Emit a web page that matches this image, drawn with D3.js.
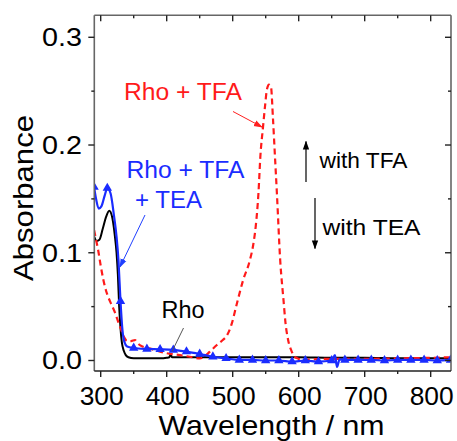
<!DOCTYPE html>
<html>
<head>
<meta charset="utf-8">
<script src="https://cdn.jsdelivr.net/npm/d3@7"></script>
<style>
  html, body { margin: 0; padding: 0; background: #fff; }
  svg { display: block; }
  text { font-family: "Liberation Sans", Arial, sans-serif; }
</style>
</head>
<body>
<svg id="chart" width="457" height="441"></svg>
<script>
// ---------- data ----------
const rhoNm  = [290, 294, 298, 303, 308, 313, 317, 321, 324, 326, 328, 330, 332, 335, 338, 342, 350, 370, 390, 400, 404, 406, 408, 420, 450, 500, 550, 600, 650, 700, 750, 800, 830];
const rhoAbs = [0.115, 0.111, 0.112, 0.122, 0.133, 0.139, 0.134, 0.118, 0.100, 0.080, 0.050, 0.030, 0.017, 0.009, 0.005, 0.003, 0.002, 0.002, 0.002, 0.0025, 0.003, 0.006, 0.003, 0.003, 0.003, 0.003, 0.003, 0.003, 0.0025, 0.0025, 0.002, 0.002, 0.002];

const tfaNm  = [290, 293, 296, 300, 304, 308, 312, 317, 322, 327, 332, 336, 340, 346, 352, 356, 360, 375, 400, 420, 435, 450, 458, 465, 476, 485, 491, 498, 506, 516, 526, 531, 535, 539, 542, 546, 549, 552, 555, 558, 561, 564, 567, 572, 577, 580, 584, 589, 594, 600, 607, 620, 650, 700, 750, 800, 830];
const tfaAbs = [0.121, 0.112, 0.103, 0.088, 0.075, 0.065, 0.058, 0.051, 0.044, 0.035, 0.027, 0.021, 0.018, 0.018, 0.019, 0.016, 0.014, 0.011, 0.0067, 0.005, 0.0035, 0.002, 0.004, 0.008, 0.0144, 0.019, 0.023, 0.033, 0.052, 0.075, 0.093, 0.107, 0.125, 0.155, 0.190, 0.217, 0.236, 0.252, 0.256, 0.254, 0.225, 0.190, 0.155, 0.093, 0.056, 0.035, 0.019, 0.009, 0.0035, 0.0015, 0.0005, 0.001, 0.0015, 0.0015, 0.002, 0.0025, 0.003];

const teaNm  = [290, 293, 297, 301, 306, 310, 315, 320, 324, 327, 330, 333, 336, 340, 350, 370, 390, 410, 430, 450, 470, 490, 510, 530, 550, 570, 590, 610, 630, 650, 655, 658, 662, 670, 690, 710, 730, 750, 770, 790, 810, 830];
const teaAbs = [0.161, 0.150, 0.141, 0.143, 0.153, 0.160, 0.155, 0.135, 0.115, 0.092, 0.055, 0.028, 0.017, 0.013, 0.0116, 0.0107, 0.0104, 0.0098, 0.0082, 0.006, 0.0035, 0.002, 0.0005, 0.0005, 0.0, 0.0, -0.001, 0.0, -0.001, 0.0, 0.005, -0.006, 0.001, 0.0005, 0.0005, 0.0005, 0.0, 0.0005, 0.0005, 0.0005, 0.0, 0.0005];
// wavelengths carrying a triangle marker on the TEA curve
const teaMarkerNm = [290, 310, 330, 350, 370, 390, 410, 430, 450, 470, 490, 510, 530, 550, 570, 590, 610, 630, 650, 670, 690, 710, 730, 750, 770, 790, 810, 830];

const xMajorTicks = [300, 400, 500, 600, 700, 800];
const xMinorTicks = [350, 450, 550, 650, 750];
const yMajorTicks = [0.0, 0.1, 0.2, 0.3];
const yMinorTicks = [0.05, 0.15, 0.25];

// ---------- layout ----------
const L = 94.3, R = 451, T = 15.3, B = 371;
const x = d3.scaleLinear().domain([290.3, 830.8]).range([L, R]);
const y = d3.scaleLinear().domain([-0.00975, 0.3204]).range([B, T]);

const svg = d3.select("#chart");
const defs = svg.append("defs");
defs.append("clipPath").attr("id", "plotclip")
  .append("rect").attr("x", L).attr("y", T).attr("width", R - L).attr("height", B - T);

function arrowMarker(id, color, size) {
  defs.append("marker").attr("id", id)
    .attr("viewBox", "0 0 10 10").attr("refX", 9).attr("refY", 5)
    .attr("markerWidth", size).attr("markerHeight", size)
    .attr("markerUnits", "userSpaceOnUse")
    .attr("orient", "auto")
    .append("path").attr("d", "M0,1.5 L10,5 L0,8.5 Z").attr("fill", color);
}
arrowMarker("arrRed", "#ff2020", 9);
arrowMarker("arrBlue", "#2040ff", 9);
arrowMarker("arrBlack", "#000", 9);

// ---------- curves ----------
const line = d3.line().x(d => x(d[0])).y(d => y(d[1])).curve(d3.curveMonotoneX);
const plot = svg.append("g").attr("clip-path", "url(#plotclip)");

plot.append("path").datum(d3.zip(rhoNm, rhoAbs))
  .attr("d", line).attr("fill", "none").attr("stroke", "#000").attr("stroke-width", 2);

plot.append("path").datum(d3.zip(tfaNm, tfaAbs))
  .attr("d", line).attr("fill", "none").attr("stroke", "#ff1a1a").attr("stroke-width", 2.2)
  .attr("stroke-dasharray", "6,4");

plot.append("path").datum(d3.zip(teaNm, teaAbs))
  .attr("d", line).attr("fill", "none").attr("stroke", "#1a2cff").attr("stroke-width", 2.2);

const tri = d3.symbol().type(d3.symbolTriangle).size(38);
plot.selectAll("path.mk").data(teaMarkerNm).enter().append("path").attr("class", "mk")
  .attr("d", tri)
  .attr("transform", nm => `translate(${x(nm)},${y(teaAbs[teaNm.indexOf(nm)])})`)
  .attr("fill", "#1a2cff");

// ---------- frame & ticks ----------
const frame = svg.append("g");
frame.append("line").attr("x1", L).attr("x2", R).attr("y1", T).attr("y2", T).attr("stroke", "#666").attr("stroke-width", 1.6);
frame.append("line").attr("x1", R).attr("x2", R).attr("y1", T).attr("y2", B).attr("stroke", "#666").attr("stroke-width", 1.6);
frame.append("line").attr("x1", L).attr("x2", L).attr("y1", T).attr("y2", B).attr("stroke", "#666").attr("stroke-width", 1.6);
frame.append("line").attr("x1", L).attr("x2", R).attr("y1", B).attr("y2", B).attr("stroke", "#222").attr("stroke-width", 1.6);

const tk = frame.append("g").attr("stroke", "#222").attr("stroke-width", 1.4);
xMajorTicks.forEach(v => {
  tk.append("line").attr("x1", x(v)).attr("x2", x(v)).attr("y1", B).attr("y2", B + 6);
  tk.append("line").attr("x1", x(v)).attr("x2", x(v)).attr("y1", T).attr("y2", T + 6);
});
xMinorTicks.forEach(v => {
  tk.append("line").attr("x1", x(v)).attr("x2", x(v)).attr("y1", B).attr("y2", B + 3);
  tk.append("line").attr("x1", x(v)).attr("x2", x(v)).attr("y1", T).attr("y2", T + 3);
});
yMajorTicks.forEach(v => {
  tk.append("line").attr("x1", L - 6).attr("x2", L).attr("y1", y(v)).attr("y2", y(v));
  tk.append("line").attr("x1", R - 6).attr("x2", R).attr("y1", y(v)).attr("y2", y(v));
});
yMinorTicks.forEach(v => {
  tk.append("line").attr("x1", L - 3).attr("x2", L).attr("y1", y(v)).attr("y2", y(v));
  tk.append("line").attr("x1", R - 3).attr("x2", R).attr("y1", y(v)).attr("y2", y(v));
});

// tick labels (slightly wide, as in the reference)
svg.append("g").selectAll("text").data(xMajorTicks).enter().append("text")
  .attr("x", d => x(d) + 1).attr("y", 404.5).attr("text-anchor", "middle")
  .attr("font-size", 25).attr("fill", "#000")
  .attr("textLength", 44).attr("lengthAdjust", "spacingAndGlyphs")
  .text(d => d);
svg.append("g").selectAll("text").data(yMajorTicks).enter().append("text")
  .attr("x", 82).attr("y", d => y(d)).attr("dy", "0.36em").attr("text-anchor", "end")
  .attr("font-size", 25).attr("fill", "#000")
  .attr("textLength", 40).attr("lengthAdjust", "spacingAndGlyphs")
  .text(d => d.toFixed(1));

// axis titles
svg.append("text").attr("x", 271.5).attr("y", 434.5).attr("text-anchor", "middle")
  .attr("font-size", 27.5).attr("fill", "#000")
  .attr("textLength", 226).attr("lengthAdjust", "spacingAndGlyphs")
  .text("Wavelength / nm");
svg.append("text").attr("transform", "translate(33,198) rotate(-90)").attr("text-anchor", "middle")
  .attr("font-size", 28).attr("fill", "#000")
  .attr("textLength", 166).attr("lengthAdjust", "spacingAndGlyphs")
  .text("Absorbance");

// ---------- annotations ----------
const ann = svg.append("g");
function label(txt, x0, y0, size, color, len) {
  return ann.append("text").attr("x", x0).attr("y", y0).attr("font-size", size).attr("fill", color)
    .attr("textLength", len).attr("lengthAdjust", "spacingAndGlyphs").text(txt);
}
label("Rho + TFA", 124, 100, 23, "#ff1a1a", 118);
ann.append("line").attr("x1", 233).attr("y1", 111.5).attr("x2", 262).attr("y2", 127)
  .attr("stroke", "#ff2020").attr("stroke-width", 1).attr("marker-end", "url(#arrRed)");

label("Rho + TFA", 126.5, 178.3, 23, "#1a2cff", 118);
label("+ TEA", 135, 208.3, 23, "#1a2cff", 67);
ann.append("line").attr("x1", 145).attr("y1", 215).attr("x2", 120).attr("y2", 267)
  .attr("stroke", "#2040ff").attr("stroke-width", 1).attr("marker-end", "url(#arrBlue)");

label("Rho", 161.5, 318, 23, "#000", 43);
ann.append("line").attr("x1", 183.5).attr("y1", 328).attr("x2", 172).attr("y2", 351.5)
  .attr("stroke", "#555").attr("stroke-width", 1);

ann.append("line").attr("x1", 306).attr("y1", 182).attr("x2", 306).attr("y2", 141.5)
  .attr("stroke", "#000").attr("stroke-width", 1.2).attr("marker-end", "url(#arrBlack)");
label("with TFA", 319.5, 168, 21.5, "#000", 88);

ann.append("line").attr("x1", 315).attr("y1", 198).attr("x2", 315).attr("y2", 248.5)
  .attr("stroke", "#000").attr("stroke-width", 1.2).attr("marker-end", "url(#arrBlack)");
label("with TEA", 322.5, 235, 21.5, "#000", 98);
</script>
</body>
</html>
